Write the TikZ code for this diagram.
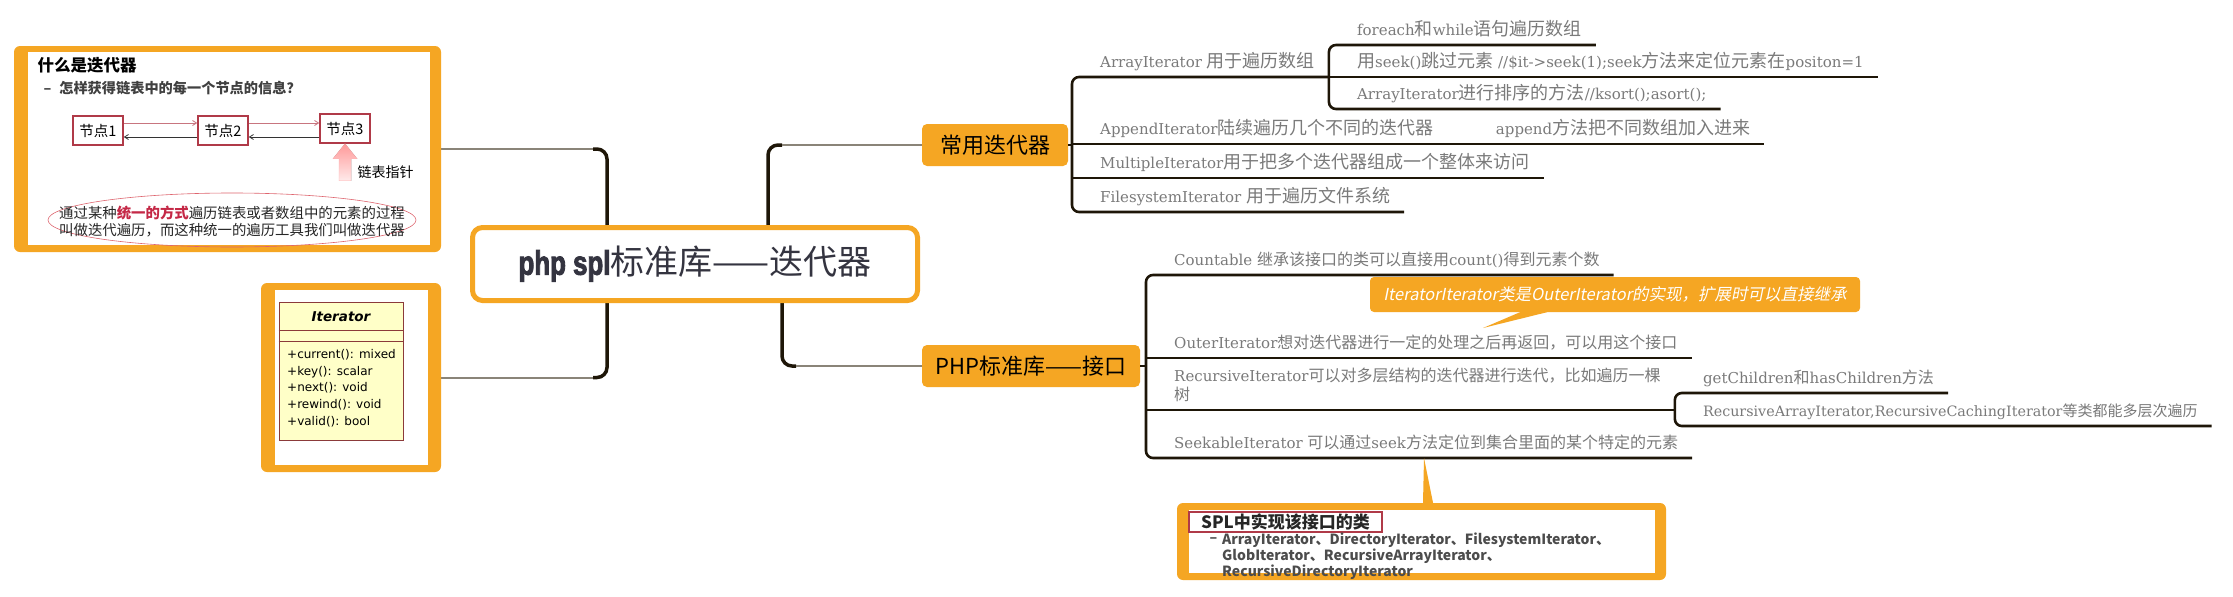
\documentclass[tikz,border=0pt]{standalone}
\usepackage{fontspec}
\setmainfont{DejaVu Serif}
\newfontfamily\cjk{Noto Sans CJK SC}
\newfontfamily\cjkit{Noto Sans CJK SC}[FakeSlant=0.2]
\newfontfamily\phpfont{Liberation Sans}[FakeStretch=0.76,FakeBold=2.5]
\newfontfamily\umlfont{DejaVu Sans}
\usepackage{xcolor}
\definecolor{mmorange}{RGB}{245,166,35}
\definecolor{mmline}{RGB}{30,22,8}
\definecolor{mmtwig}{RGB}{138,132,120}
\definecolor{mmtext}{RGB}{122,122,122}
\definecolor{nodered}{RGB}{176,58,72}
\definecolor{hlred}{RGB}{196,40,70}
\definecolor{ringred}{RGB}{222,100,110}
\definecolor{umlfill}{RGB}{255,255,200}
\definecolor{umlline}{RGB}{139,58,58}
\definecolor{hubtext}{RGB}{52,52,64}
\usepackage{tikz}
\usetikzlibrary{arrows.meta,positioning,calc,backgrounds}
\def\zhpt{15}
\newcommand\zh[1]{{\cjk\fontsize{\zhpt}{\zhpt}\selectfont #1}}

\begin{document}
\begin{tikzpicture}[x=1pt,y=-1pt,
  hubbox/.style={draw=mmorange,line width=5pt,fill=white,rounded corners=10pt,
    minimum width=445pt,minimum height=73pt,inner sep=0pt,text=hubtext},
  topic/.style={fill=mmorange,rounded corners=5pt,inner sep=0pt,minimum height=42pt,
    font=\cjk\fontsize{22}{26}\selectfont},
  frame/.style={fill=mmorange,rounded corners=6pt,inner sep=0pt},
  leaf/.style={anchor=south west,inner xsep=14pt,inner ysep=5pt,text depth=4pt,
    text=mmtext,execute at begin node={\hspace*{14pt}}},
  leafA/.style={leaf,font=\def\zhpt{18}\fontsize{15}{19}\selectfont},
  leafB/.style={leaf,font=\def\zhpt{16}\fontsize{15}{19}\selectfont},
  trunk/.style={draw=mmline,line width=3.5pt,rounded corners=10pt},
  twig/.style={draw=mmtwig,line width=2pt},
  branch/.style={draw=mmline,line width=2.6pt,rounded corners=7pt},
  linknode/.style={draw=nodered,line width=1.5pt,fill=white,minimum width=50pt,
    minimum height=29pt,inner sep=0pt,font=\cjk\fontsize{14.5}{16}\selectfont},
  fwd/.style={draw=nodered!70,line width=0.8pt,-{Straight Barb[length=4pt,width=5pt]}},
  back/.style={draw=black!80,line width=0.8pt,-{Straight Barb[length=4pt,width=5pt]}},
  uml/.style={draw=umlline,line width=0.8pt}]
  \useasboundingbox (0,0) rectangle (2233,597);

  % central topic
  \node[hubbox] (hub) at (695,264)
    {{\phpfont\bfseries\fontsize{34}{40}\selectfont php spl}{\cjk\fontsize{34}{40}\selectfont 标准库——迭代器}};

  % what is an iterator
  \node[frame,minimum width=427pt,minimum height=206pt] (whatbox) at (227.5,149) {};
  \fill[white] (28,52) rectangle (430,245);
  \node[anchor=west,font=\cjk\bfseries\fontsize{16.5}{18}\selectfont] (whattitle) at (34,65) {什么是迭代器};
  \node[anchor=west,text=black!75,font=\cjk\bfseries\fontsize{14.2}{16}\selectfont] (whatq) at (40,88)
    {–\hspace{8pt}怎样获得链表中的每一个节点的信息？};
  \node[linknode] (n1) at (98,130.5) {节点1};
  \node[linknode] (n2) at (223,130.5) {节点2};
  \node[linknode] (n3) at (345,128.5) {节点3};
  \draw[fwd] ([yshift=7.5pt]n1.east) -- ([yshift=7.5pt]n1.east -| n2.west);
  \draw[back] ([yshift=-6.5pt]n2.west) -- ([yshift=-6.5pt]n2.west -| n1.east);
  \draw[fwd] ([yshift=7.5pt]n2.east) -- ([yshift=7.5pt]n2.east -| n3.west);
  \draw[back] ([yshift=-6.5pt]n2.east -| n3.west) -- ([yshift=-6.5pt]n2.east);
  \fill[top color=red!40,bottom color=red!8,draw=red!30,line width=0.4pt]
    (n3.south) -- ++(12,15) -- ++(-6,0) -- ++(0,22) -- ++(-12,0) -- ++(0,-22) -- ++(-6,0) -- cycle;
  \node[anchor=west,font=\cjk\fontsize{14}{16}\selectfont] (ptr) at (354,172) {链表指针};
  \draw[ringred,line width=0.6pt] (232,220) ellipse [x radius=184pt,y radius=27pt];
  \node[align=left,text=black!85,font=\cjk\fontsize{14.4}{17}\selectfont] (whatnote) at (232,221)
    {通过某种{\bfseries\color{hlred}统一的方式}遍历链表或者数组中的元素的过程\\叫做迭代遍历，而这种统一的遍历工具我们叫做迭代器};

  % Iterator interface
  \node[frame,minimum width=180pt,minimum height=189pt] (iterbox) at (351,377.5) {};
  \fill[white] (275,290) rectangle (428,465);
  \node[uml,fill=umlfill,minimum width=124pt,minimum height=138pt,inner sep=0pt] (iface) at (341,371) {};
  \draw[uml] ($(iface.north west)+(0,29)$) -- ($(iface.north east)+(0,29)$);
  \draw[uml] ($(iface.north west)+(0,40)$) -- ($(iface.north east)+(0,40)$);
  \node[font=\umlfont\bfseries\itshape\fontsize{13.5}{15}\selectfont] (ifname) at (341,317) {Iterator};
  \node[anchor=north west,align=left,inner sep=0pt,font=\umlfont\fontsize{12}{16.8}\selectfont] (ifops) at (287,349)
    {+current(): mixed\\+key(): scalar\\+next(): void\\+rewind(): void\\+valid(): bool};

  % main topics
  \node[topic,minimum width=146pt] (c1) at (995,145) {常用迭代器};
  \node[topic,minimum width=218pt] (c2) at (1031,366) {PHP标准库——接口};

  \coordinate (xL) at (607,0);
  \coordinate (xR1) at (768,0);
  \coordinate (xR2) at (782,0);
  \begin{scope}[on background layer]
    \fill[white] (0,0) rectangle (2233,597);
    \draw[trunk] (hub.north -| xL) |- ($(whatbox.east -| xL)+(-14,0)$);
    \draw[twig] (whatbox.east) -- ($(whatbox.east -| xL)+(-14,0)$);
    \draw[trunk] (hub.south -| xL) |- ($(iterbox.east -| xL)+(-14,0)$);
    \draw[twig] (iterbox.east) -- ($(iterbox.east -| xL)+(-14,0)$);
    \draw[trunk] (hub.north -| xR1) |- ($(c1.west -| xR1)+(14,0)$);
    \draw[twig] ($(c1.west -| xR1)+(14,0)$) -- (c1.west);
    \draw[trunk] (hub.south -| xR2) |- ($(c2.west -| xR2)+(14,0)$);
    \draw[twig] ($(c2.west -| xR2)+(14,0)$) -- (c2.west);
  \end{scope}

  % common iterators
  \node[leafA] (arr) at (1072,77) {ArrayIterator \zh{用于遍历数组}};
  \node[leafA] (app) at (1072,144) {AppendIterator\zh{陆续遍历几个不同的迭代器}};
  \node[leafA] (mul) at (1072,178) {MultipleIterator\zh{用于把多个迭代器组成一个整体来访问}};
  \node[leafA] (fs) at (1072,212) {FilesystemIterator \zh{用于遍历文件系统}};
  \node[leafA] (apc) at ([xshift=20pt]app.south east) {append\zh{方法把不同数组加入进来}};
  \node[leafA] (fe) at ([yshift=32pt]arr.south east) {foreach\zh{和}while\zh{语句遍历数组}};
  \node[leafA] (sk) at (arr.south east)
    {\zh{用}seek()\zh{跳过元素} //\$it->seek(1);seek\zh{方法来定位元素在}positon=1};
  \node[leafA] (srt) at ([yshift=-32pt]arr.south east) {ArrayIterator\zh{进行排序的方法}//ksort();asort();};
  \draw[branch] (arr.south east) -- (arr.south west) -- (fs.south west) -- (fs.south east);
  \draw[branch] (app.south west) -- (apc.south east);
  \draw[branch] (mul.south west) -- (mul.south east);
  \draw[branch] (c1.east) -- (c1.east -| app.south west);
  \draw[branch] (fe.south east) -- (fe.south west) -- (srt.south west) -- (srt.south east);
  \draw[branch] (sk.south west) -- (sk.south east);

  % spl interfaces
  \node[leafB] (cnt) at (1146,275) {Countable \zh{继承该接口的类可以直接用}count()\zh{得到元素个数}};
  \node[leafB] (out) at (1146,358) {OuterIterator\zh{想对迭代器进行一定的处理之后再返回，可以用这个接口}};
  \node[leafB,align=left] (rec) at (1146,410)
    {RecursiveIterator\zh{可以对多层结构的迭代器进行迭代，比如遍历一棵}\\\zh{树}};
  \node[leafB] (skb) at (1146,458) {SeekableIterator \zh{可以通过}seek\zh{方法定位到集合里面的某个特定的元素}};
  \node[leafB] (gch) at ([yshift=17pt]rec.south east) {getChildren\zh{和}hasChildren\zh{方法}};
  \node[leafB,font=\fontsize{14.3}{19}\selectfont] (rai) at ([yshift=-16pt]rec.south east)
    {RecursiveArrayIterator,RecursiveCachingIterator\zh{等类都能多层次遍历}};
  \draw[branch] (cnt.south east) -- (cnt.south west) -- (skb.south west) -- (skb.south east);
  \draw[branch] (out.south west) -- (out.south east);
  \draw[branch] (rec.south west) -- (rec.south east);
  \draw[branch] (gch.south east) -- (gch.south west) -- (rai.south west) -- (rai.south east);
  \draw[branch] (c2.east) -- (c2.east -| cnt.south west);

  % callout on OuterIterator
  \node[fill=mmorange,rounded corners=4pt,minimum width=490pt,minimum height=35pt,inner sep=0pt,
    text=white,font=\cjkit\fontsize{16.5}{19}\selectfont] (note) at (1615,294.5)
    {IteratorIterator类是OuterIterator的实现，扩展时可以直接继承};
  \coordinate (notetip) at (1483,328);
  \fill[mmorange] ([xshift=-95pt]note.south) -- ([xshift=-68pt]note.south) -- (notetip) -- cycle;

  % classes box
  \node[frame,minimum width=489pt,minimum height=77pt] (splbox) at (1421.5,541.5) {};
  \fill[white] (1189,510) rectangle (1655,573);
  \coordinate (spltip) at (1424,458);
  \fill[mmorange] ([xshift=1.5pt]splbox.north) -- ([xshift=11.5pt]splbox.north) -- (spltip) -- cycle;
  \node[draw=nodered,line width=1.2pt,inner sep=0pt,minimum width=193pt,minimum height=20pt,
    text=black!85,font=\cjk\bfseries\fontsize{17}{20}\selectfont] (spltitle) at (1285.5,522) {SPL中实现该接口的类};
  \node[anchor=west,text=black!70,font=\cjk\bfseries\fontsize{14}{14.5}\selectfont] (spldash) at (1206,540) {–};
  \node[anchor=north west,align=left,inner sep=0pt,text=black!70,font=\cjk\bfseries\fontsize{14}{14.5}\selectfont] (spllist) at (1222,533)
    {ArrayIterator、DirectoryIterator、FilesystemIterator、\\GlobIterator、RecursiveArrayIterator、\\RecursiveDirectoryIterator};
\end{tikzpicture}
\end{document}
